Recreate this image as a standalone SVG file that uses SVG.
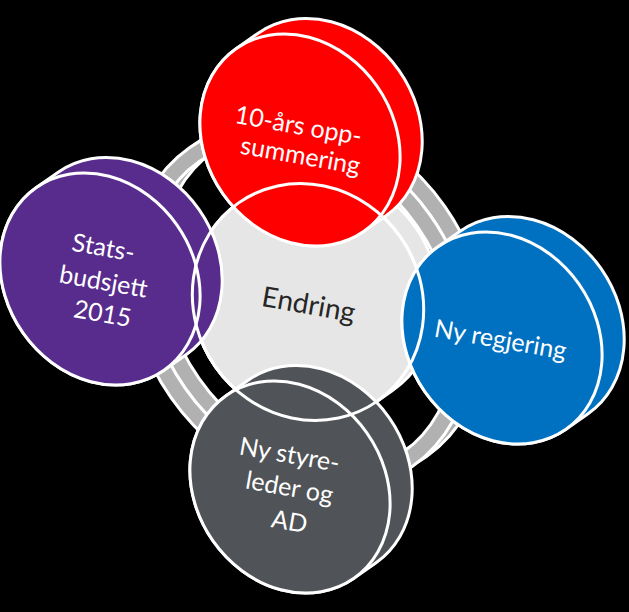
<svg xmlns="http://www.w3.org/2000/svg" xmlns:xlink="http://www.w3.org/1999/xlink" width="629" height="612" viewBox="0 0 629 612">
<style>
.rw{fill:none;stroke:#FFFFFF;stroke-width:20}
.rg{fill:none;stroke:#B1B1B1;stroke-width:14}
.o{stroke:#FFFFFF;stroke-width:3}
.red{fill:#FF0000}
.pur{fill:#582C8C}
.blu{fill:#0070C0}
.gry{fill:#505357}
.ctr{fill:#E6E6E6}
.t{font-family:Lato,"Liberation Sans",sans-serif;font-size:25px;fill:#FFFFFF;text-anchor:middle}
.tc{font-family:Lato,"Liberation Sans",sans-serif;font-size:28px;fill:#262626;text-anchor:middle}
</style>
<defs>
<path id="hull" d="M111.5,0 L111.5,-27 A111.5,94 0 0 0 -111.5,-27 L-111.5,0 A111.5,94 0 0 0 111.5,0 Z"/>
<ellipse id="face" cx="0" cy="0" rx="111.5" ry="94"/>
</defs>
<rect x="0" y="0" width="629" height="612" fill="#000000"/>
<g id="ring" transform="translate(301,307) rotate(55)">
<ellipse class="rw" cx="0" cy="-17" rx="186" ry="150"/>
<ellipse class="rg" cx="0" cy="-17" rx="186" ry="150"/>
<ellipse class="rw" cx="0" cy="0" rx="186" ry="150"/>
<ellipse class="rg" cx="0" cy="0" rx="186" ry="150"/>
</g>
<g id="node-center">
<g transform="translate(308,302) rotate(55)">
<path class="ctr o" d="M121,0 L121,-18 A121,113 0 0 0 -121,-18 L-121,0 A121,113 0 0 0 121,0 Z"/>
<ellipse class="ctr o" cx="0" cy="0" rx="121" ry="113"/>
</g>
</g>
<g id="node-red">
<g transform="translate(300,140) rotate(55)">
<use href="#hull" class="red o"/>
<use href="#face" class="red o"/>
</g>
</g>
<g id="node-purple">
<g transform="translate(100,279) rotate(55)">
<use href="#hull" class="pur o"/>
<use href="#face" class="pur o"/>
</g>
</g>
<g id="node-blue">
<g transform="translate(502,338) rotate(55)">
<use href="#hull" class="blu o"/>
<use href="#face" class="blu o"/>
</g>
</g>
<g id="node-gray">
<g transform="translate(290,487) rotate(55)">
<use href="#hull" class="gry o"/>
<use href="#face" class="gry o"/>
</g>
</g>
<g id="center-outline" transform="translate(308,302) rotate(55)">
<ellipse cx="0" cy="0" rx="121" ry="113" fill="none" class="o"/>
</g>
<g id="labels">
<text class="tc" transform="translate(307,314) rotate(10)">Endring</text>
<text class="t" transform="translate(297,134) rotate(10)">10-års opp-</text>
<text class="t" transform="translate(299,164) rotate(10)">summering</text>
<text class="t" transform="translate(102,256) rotate(10)">Stats-</text>
<text class="t" transform="translate(102,290) rotate(10)">budsjett</text>
<text class="t" transform="translate(101,322) rotate(10)">2015</text>
<text class="t" transform="translate(499,348) rotate(10)">Ny regjering</text>
<text class="t" transform="translate(288,463) rotate(10)">Ny styre-</text>
<text class="t" transform="translate(288,496) rotate(10)">leder og</text>
<text class="t" transform="translate(288,530) rotate(10)">AD</text>
</g>
</svg>
